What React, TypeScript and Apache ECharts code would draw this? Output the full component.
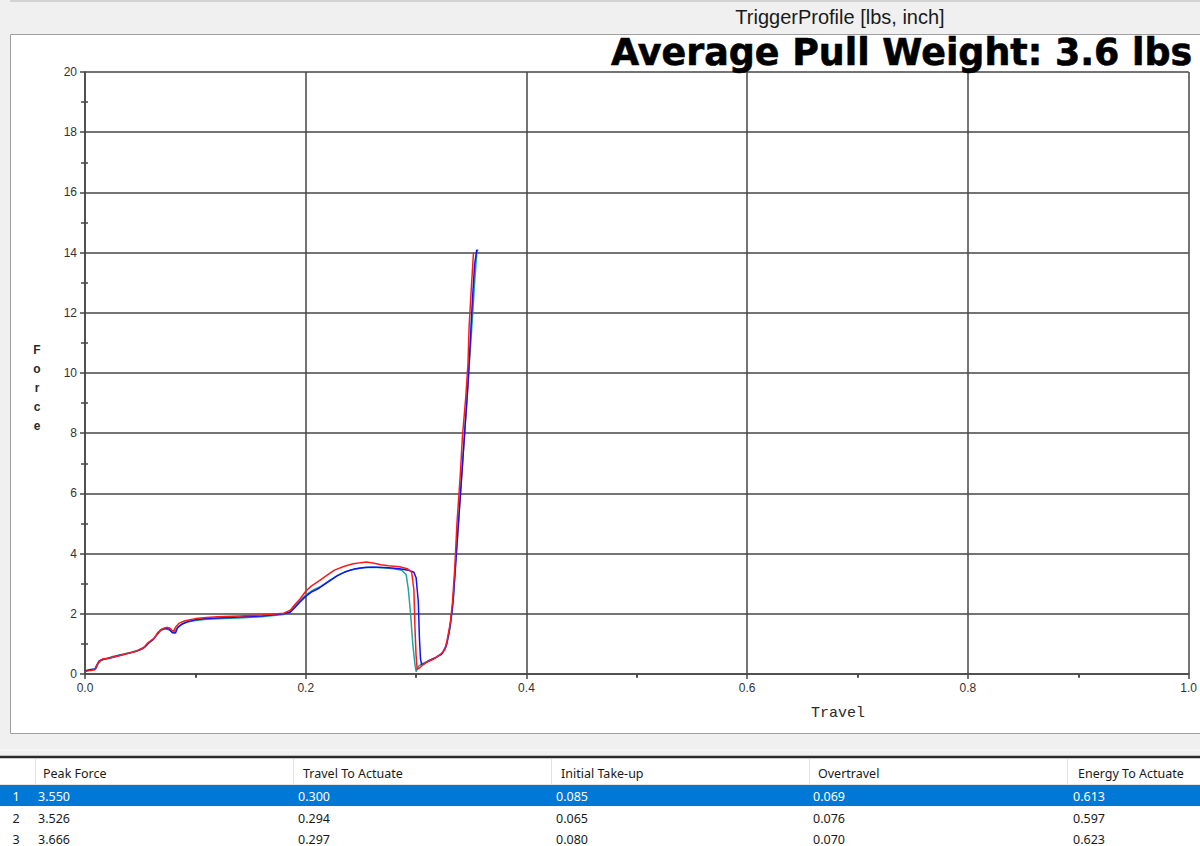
import React, { useEffect, useRef } from "react";
import * as echarts from "echarts";

// ---- data ----
const xTicks = [0, 0.2, 0.4, 0.6, 0.8, 1.0];
const yTicks = [0, 2, 4, 6, 8, 10, 12, 14, 16, 18, 20];

const redPoints: [number, number][] = [
  [0.000, 0.08], [0.005, 0.12], [0.009, 0.14], [0.011, 0.30], [0.013, 0.42], [0.016, 0.50],
  [0.020, 0.52], [0.025, 0.56], [0.030, 0.60], [0.035, 0.65], [0.040, 0.70], [0.045, 0.74],
  [0.050, 0.82], [0.053, 0.86], [0.056, 1.00], [0.060, 1.12], [0.063, 1.20], [0.066, 1.38],
  [0.070, 1.50], [0.074, 1.55], [0.077, 1.52], [0.080, 1.40], [0.082, 1.55], [0.085, 1.68],
  [0.090, 1.76], [0.095, 1.80], [0.100, 1.84], [0.110, 1.88], [0.120, 1.90], [0.140, 1.93],
  [0.160, 1.96], [0.180, 2.02], [0.186, 2.12], [0.190, 2.30], [0.195, 2.50], [0.200, 2.75],
  [0.205, 2.92], [0.213, 3.12], [0.220, 3.30], [0.226, 3.45], [0.235, 3.58], [0.243, 3.66],
  [0.250, 3.70], [0.255, 3.72], [0.262, 3.68], [0.268, 3.63], [0.275, 3.60], [0.285, 3.56],
  [0.292, 3.50], [0.296, 3.38], [0.298, 2.80], [0.299, 1.50], [0.300, 0.60], [0.301, 0.15],
  [0.303, 0.20], [0.306, 0.30], [0.310, 0.40], [0.316, 0.50], [0.322, 0.65], [0.326, 0.80],
  [0.328, 1.10], [0.331, 1.70], [0.333, 2.40], [0.335, 3.50], [0.337, 5.00], [0.340, 6.60],
  [0.342, 7.90], [0.345, 9.20], [0.347, 10.3], [0.348, 11.5], [0.350, 12.8], [0.352, 14.0],
];

const bluePoints: [number, number][] = [
  [0.000, 0.10], [0.005, 0.15], [0.009, 0.16], [0.011, 0.32], [0.013, 0.44], [0.017, 0.49],
  [0.022, 0.52], [0.027, 0.57], [0.032, 0.62], [0.037, 0.66], [0.042, 0.71], [0.047, 0.76],
  [0.052, 0.84], [0.055, 0.92], [0.058, 1.05], [0.062, 1.15], [0.065, 1.30], [0.068, 1.45],
  [0.072, 1.52], [0.076, 1.50], [0.079, 1.38], [0.082, 1.36], [0.084, 1.55], [0.088, 1.66],
  [0.093, 1.74], [0.100, 1.80], [0.110, 1.84], [0.120, 1.86], [0.140, 1.89], [0.160, 1.93],
  [0.180, 2.00], [0.186, 2.05], [0.190, 2.20], [0.195, 2.40], [0.200, 2.58], [0.205, 2.72],
  [0.212, 2.85], [0.220, 3.05], [0.228, 3.25], [0.236, 3.40], [0.245, 3.50], [0.255, 3.55],
  [0.265, 3.55], [0.275, 3.53], [0.285, 3.50], [0.293, 3.45], [0.298, 3.38], [0.300, 3.20],
  [0.302, 2.40], [0.303, 1.20], [0.304, 0.50], [0.305, 0.30], [0.308, 0.35], [0.312, 0.45],
  [0.318, 0.55], [0.323, 0.65], [0.327, 0.90], [0.330, 1.40], [0.333, 2.20], [0.335, 3.20],
  [0.338, 4.80], [0.341, 6.40], [0.344, 8.00], [0.347, 9.60], [0.349, 11.0], [0.351, 12.4],
  [0.353, 13.6], [0.355, 14.1],
];

const tealPoints: [number, number][] = [
  [0.000, 0.10], [0.005, 0.14], [0.010, 0.18], [0.012, 0.35], [0.015, 0.46], [0.020, 0.52],
  [0.025, 0.58], [0.030, 0.62], [0.036, 0.67], [0.042, 0.72], [0.048, 0.79], [0.053, 0.88],
  [0.057, 1.00], [0.061, 1.12], [0.065, 1.30], [0.069, 1.45], [0.073, 1.50], [0.077, 1.45],
  [0.080, 1.36], [0.083, 1.50], [0.087, 1.64], [0.092, 1.72], [0.100, 1.78], [0.110, 1.82],
  [0.125, 1.84], [0.140, 1.86], [0.160, 1.90], [0.180, 1.98], [0.185, 2.05], [0.190, 2.25],
  [0.195, 2.45], [0.200, 2.62], [0.206, 2.78], [0.214, 2.92], [0.222, 3.12], [0.230, 3.30],
  [0.240, 3.45], [0.250, 3.52], [0.260, 3.55], [0.270, 3.53], [0.280, 3.50], [0.287, 3.45],
  [0.291, 3.30], [0.293, 2.80], [0.295, 2.00], [0.297, 1.00], [0.299, 0.30], [0.300, 0.08],
  [0.302, 0.25], [0.306, 0.35], [0.312, 0.45], [0.318, 0.55], [0.324, 0.70], [0.328, 1.00],
  [0.331, 1.60], [0.334, 2.60], [0.336, 3.80], [0.339, 5.40], [0.342, 7.00], [0.345, 8.60],
  [0.348, 10.2], [0.351, 11.8], [0.353, 13.0], [0.355, 14.0], [0.356, 14.1],
];

const tableHeaders = ["Peak Force", "Travel To Actuate", "Initial Take-up", "Overtravel", "Energy To Actuate"];
const rowNumbers = ["1", "2", "3"];
const peakForce = ["3.550", "3.526", "3.666"];
const travelToActuate = ["0.300", "0.294", "0.297"];
const initialTakeUp = ["0.085", "0.065", "0.080"];
const overtravel = ["0.069", "0.076", "0.070"];
const energyToActuate = ["0.613", "0.597", "0.623"];

const chartTitle = "TriggerProfile [lbs, inch]";
const overlayTitle = "Average Pull Weight: 3.6 lbs";
const xAxisName = "Travel";
const yAxisName = "Force";

export default function App() {
  const ref = useRef<HTMLDivElement>(null);

  useEffect(() => {
    if (!ref.current) return;
    const chart = echarts.init(ref.current, undefined, { renderer: "svg" });

    const gridColor = "#464646";
    const sansFont = "Liberation Sans";
    const tableFont = "Noto Sans";

    const headerX = [43, 303, 561, 818, 1078];
    const valueX = [38, 298, 556, 813, 1073];
    const sepX = [35, 293, 551, 809, 1067];
    const rowY = [796, 818, 839];
    const columns = [peakForce, travelToActuate, initialTakeUp, overtravel, energyToActuate];

    const graphics: any[] = [];
    // top bar
    graphics.push({ type: "rect", shape: { x: 0, y: 0, width: 1200, height: 34 }, style: { fill: "#f0f0f0" }, silent: true });
    graphics.push({ type: "line", shape: { x1: 0, y1: 1, x2: 1200, y2: 1 }, style: { stroke: "#c8c8c8", lineWidth: 1.5 }, silent: true });
    // left strip
    graphics.push({ type: "rect", shape: { x: 0, y: 0, width: 10, height: 757 }, style: { fill: "#f0f0f0" }, silent: true });
    // band between panel and table
    graphics.push({ type: "rect", shape: { x: 0, y: 734, width: 1200, height: 23 }, style: { fill: "#f0f0f0" }, silent: true });
    graphics.push({ type: "line", shape: { x1: 0, y1: 750, x2: 1200, y2: 750 }, style: { stroke: "#fbfbfb", lineWidth: 1 }, silent: true });
    // panel border
    graphics.push({ type: "rect", shape: { x: 10.5, y: 34.5, width: 1200, height: 699 }, style: { fill: "none", stroke: "#a0a0a0", lineWidth: 1 }, silent: true });
    // chart title
    graphics.push({
      type: "text", x: 840, y: 17,
      style: { text: chartTitle, font: `20px '${sansFont}'`, fill: "#1a1a1a", align: "center", verticalAlign: "middle" },
    });
    // axis names
    graphics.push({
      type: "text", x: 37, y: 340,
      style: { text: yAxisName.split("").join("\n"), font: `14px 'Liberation Mono'`, fontWeight: "bold", lineHeight: 19, fill: "#2a2a2a", align: "center", verticalAlign: "top" },
    });
    graphics.push({
      type: "text", x: 838, y: 713,
      style: { text: xAxisName, font: `15px 'Liberation Mono'`, fill: "#2a2a2a", align: "center", verticalAlign: "middle" },
    });
    // overlay title
    graphics.push({
      type: "text", x: 611, y: 52, z: 100,
      style: { text: overlayTitle, font: `bold 36.4px 'DejaVu Sans'`, fill: "#000", align: "left", verticalAlign: "middle", stroke: "#000", lineWidth: 0.6 },
    });

    // table
    graphics.push({ type: "rect", shape: { x: 0, y: 757, width: 1200, height: 89 }, style: { fill: "#ffffff" }, silent: true });
    graphics.push({ type: "line", shape: { x1: 0, y1: 757, x2: 1200, y2: 757 }, style: { stroke: "#2a2a2a", lineWidth: 2.5 }, silent: true });
    graphics.push({ type: "line", shape: { x1: 0, y1: 784.5, x2: 1200, y2: 784.5 }, style: { stroke: "#e3e3e3", lineWidth: 1 }, silent: true });
    sepX.forEach((sx) => {
      graphics.push({ type: "line", shape: { x1: sx + 0.5, y1: 759, x2: sx + 0.5, y2: 784 }, style: { stroke: "#e3e3e3", lineWidth: 1 }, silent: true });
    });
    graphics.push({ type: "rect", shape: { x: 0, y: 785, width: 1200, height: 21 }, style: { fill: "#0078d7" }, silent: true });
    tableHeaders.forEach((h, i) => {
      graphics.push({
        type: "text", x: headerX[i], y: 773,
        style: { text: h, font: `12.5px '${tableFont}'`, fill: "#1a1a1a", align: "left", verticalAlign: "middle" },
      });
    });
    rowNumbers.forEach((n, r) => {
      const color = r === 0 ? "#ffffff" : "#1a1a1a";
      graphics.push({
        type: "text", x: 16, y: rowY[r],
        style: { text: n, font: `12.5px '${tableFont}'`, fill: color, align: "center", verticalAlign: "middle" },
      });
      columns.forEach((col, c) => {
        graphics.push({
          type: "text", x: valueX[c], y: rowY[r],
          style: { text: col[r], font: `12.5px '${tableFont}'`, fill: color, align: "left", verticalAlign: "middle" },
        });
      });
    });

    const axisLabel = { color: "#333", fontFamily: sansFont, fontSize: 12, margin: 8 };

    chart.setOption({
      animation: false,
      backgroundColor: "#ffffff",
      grid: { left: 85, top: 72, width: 1105, height: 602, containLabel: false },
      xAxis: [
        {
          type: "value", min: xTicks[0], max: xTicks[xTicks.length - 1], interval: 0.2,
          axisLine: { show: true, lineStyle: { color: gridColor, width: 1.5 } },
          axisTick: { show: true, length: 5, lineStyle: { color: gridColor, width: 1.5 } },
          minorTick: { show: true, splitNumber: 2, length: 4, lineStyle: { color: gridColor, width: 1.5 } },
          splitLine: { show: true, lineStyle: { color: gridColor, width: 1.5 } },
          axisLabel: { ...axisLabel, formatter: (v: number) => v.toFixed(1) },
        },
        {
          type: "value", position: "bottom", min: xTicks[0], max: xTicks[xTicks.length - 1], interval: 0.2,
          axisLine: { show: false },
          axisTick: { show: false },
          minorTick: { show: true, splitNumber: 2, length: 3, lineStyle: { color: gridColor, width: 1.5 } },
          splitLine: { show: false },
          axisLabel: { show: false },
        },
      ],
      yAxis: [
        {
          type: "value", min: yTicks[0], max: yTicks[yTicks.length - 1], interval: 2,
          axisLine: { show: true, lineStyle: { color: gridColor, width: 1.5 } },
          axisTick: { show: true, length: 5, lineStyle: { color: gridColor, width: 1.5 } },
          minorTick: { show: true, splitNumber: 2, length: 4, lineStyle: { color: gridColor, width: 1.5 } },
          splitLine: { show: true, lineStyle: { color: gridColor, width: 1.5 } },
          axisLabel,
        },
        {
          type: "value", position: "left", min: yTicks[0], max: yTicks[yTicks.length - 1], interval: 2,
          axisLine: { show: false },
          axisTick: { show: false, inside: true },
          minorTick: { show: true, splitNumber: 2, length: 3, lineStyle: { color: gridColor, width: 1.5 } },
          splitLine: { show: false },
          axisLabel: { show: false, inside: true },
        },
      ],
      series: [
        { type: "line", name: "Run 3", data: tealPoints, showSymbol: false, lineStyle: { color: "#22a3a3", width: 1.5 }, z: 3 },
        { type: "line", name: "Run 2", data: bluePoints, showSymbol: false, lineStyle: { color: "#1010ff", width: 1.5 }, z: 4 },
        { type: "line", name: "Run 1", data: redPoints, showSymbol: false, lineStyle: { color: "#ff1a1a", width: 1.5 }, z: 5 },
      ],
      graphic: graphics,
    });

    return () => chart.dispose();
  }, []);

  return (
    <div
      ref={ref}
      style={{ position: "fixed", left: 0, top: 0, width: 1200, height: 846 }}
    />
  );
}
